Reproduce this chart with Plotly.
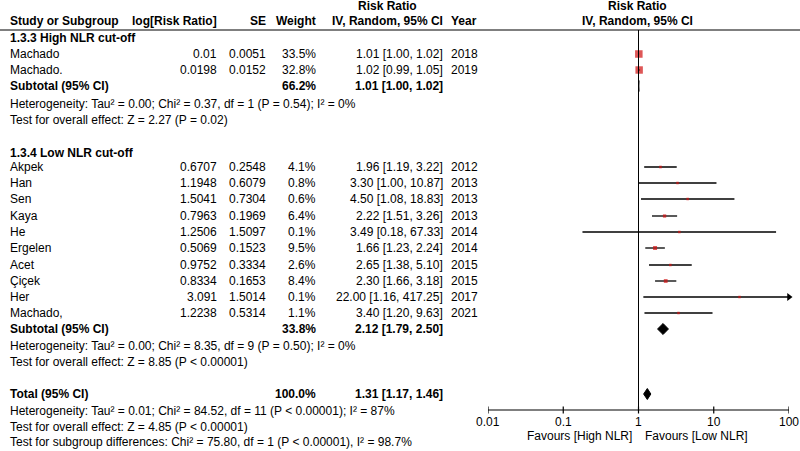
import math

import plotly.graph_objects as go

# ---- data ----
high_studies = ["Machado", "Machado."]
high_log_rr = [0.01, 0.0198]
high_se = [0.0051, 0.0152]
high_weight = [33.5, 32.8]
high_rr = [1.01, 1.02]
high_lo = [1.00, 0.99]
high_hi = [1.02, 1.05]
high_year = [2018, 2019]

low_studies = ["Akpek", "Han", "Sen", "Kaya", "He", "Ergelen", "Acet", "Çiçek", "Her", "Machado,"]
low_log_rr = [0.6707, 1.1948, 1.5041, 0.7963, 1.2506, 0.5069, 0.9752, 0.8334, 3.091, 1.2238]
low_se = [0.2548, 0.6079, 0.7304, 0.1969, 1.5097, 0.1523, 0.3334, 0.1653, 1.5014, 0.5314]
low_weight = [4.1, 0.8, 0.6, 6.4, 0.1, 9.5, 2.6, 8.4, 0.1, 1.1]
low_rr = [1.96, 3.30, 4.50, 2.22, 3.49, 1.66, 2.65, 2.30, 22.00, 3.40]
low_lo = [1.19, 1.00, 1.08, 1.51, 0.18, 1.23, 1.38, 1.66, 1.16, 1.20]
low_hi = [3.22, 10.87, 18.83, 3.26, 67.33, 2.24, 5.10, 3.18, 417.25, 9.63]
low_year = [2012, 2013, 2013, 2013, 2014, 2014, 2015, 2015, 2017, 2021]

# pooled: weight, estimate, lower, upper
subtotal_high = [66.2, 1.01, 1.00, 1.02]
subtotal_low = [33.8, 2.12, 1.79, 2.50]
total = [100.0, 1.31, 1.17, 1.46]

het_high = "Heterogeneity: Tau² = 0.00; Chi² = 0.37, df = 1 (P = 0.54); I² = 0%"
eff_high = "Test for overall effect: Z = 2.27 (P = 0.02)"
het_low = "Heterogeneity: Tau² = 0.00; Chi² = 8.35, df = 9 (P = 0.50); I² = 0%"
eff_low = "Test for overall effect: Z = 8.85 (P < 0.00001)"
het_total = "Heterogeneity: Tau² = 0.01; Chi² = 84.52, df = 11 (P < 0.00001); I² = 87%"
eff_total = "Test for overall effect: Z = 4.85 (P < 0.00001)"
subgroup_diff = "Test for subgroup differences: Chi² = 75.80, df = 1 (P < 0.00001), I² = 98.7%"

tick_vals = [0.01, 0.1, 1, 10, 100]
tick_text = ["0.01", "0.1", "1", "10", "100"]
favours_left = "Favours [High NLR]"
favours_right = "Favours [Low NLR]"

# ---- layout (pixel rows, y grows downward) ----
W, H = 800, 451
FONT = "Liberation Sans, Arial, sans-serif"
FS = 12
X_MIN, X_MAX = 0.01, 100
PLOT_L, PLOT_R = 488, 789
AXIS_Y = 410

high_rows = [54, 70]
high_sub_row = 86
low_rows = [167, 183, 199, 216, 232, 248, 265, 281, 297, 313]
low_sub_row = 329
total_row = 394

COL_NAME = 8
COL_LOGRR = 219
COL_SE = 268
COL_W = 318
COL_CI = 445
COL_YEAR = 449

fig = go.Figure()
annotations = []


def txt(x, y, s, anchor="left", bold=False):
    annotations.append(dict(
        x=x / W, y=y, xref="paper", yref="y", text=f"<b>{s}</b>" if bold else s,
        showarrow=False, xanchor=anchor, yanchor="middle",
        font=dict(family=FONT, size=FS, color="black"),
    ))


# headers
txt(387, 6, "Risk Ratio", "center", True)
txt(COL_NAME, 21, "Study or Subgroup", bold=True)
txt(COL_LOGRR, 21, "log[Risk Ratio]", "right", True)
txt(COL_SE, 21, "SE", "right", True)
txt(COL_W, 21, "Weight", "right", True)
txt(COL_CI, 21, "IV, Random, 95% CI", "right", True)
txt(COL_YEAR, 21, "Year", bold=True)
txt(637, 6, "Risk Ratio", "center", True)
txt(637, 21, "IV, Random, 95% CI", "center", True)


def study_rows(names, lrr, se, wt, rr, lo, hi, yr, rows):
    for i, y in enumerate(rows):
        txt(COL_NAME, y, names[i])
        txt(COL_LOGRR, y, str(lrr[i]), "right")
        txt(COL_SE, y, str(se[i]), "right")
        txt(COL_W, y, f"{wt[i]:.1f}%", "right")
        txt(COL_CI, y, f"{rr[i]:.2f} [{lo[i]:.2f}, {hi[i]:.2f}]", "right")
        txt(COL_YEAR, y, str(yr[i]))


def pooled_row(label, vals, y):
    txt(COL_NAME, y, label, bold=True)
    txt(COL_W, y, f"{vals[0]:.1f}%", "right", True)
    txt(COL_CI, y, f"{vals[1]:.2f} [{vals[2]:.2f}, {vals[3]:.2f}]", "right", True)


txt(COL_NAME, 38, "1.3.3 High NLR cut-off", bold=True)
study_rows(high_studies, high_log_rr, high_se, high_weight, high_rr, high_lo, high_hi, high_year, high_rows)
pooled_row("Subtotal (95% CI)", subtotal_high, high_sub_row)
txt(COL_NAME, 104, het_high)
txt(COL_NAME, 120, eff_high)

txt(COL_NAME, 153, "1.3.4 Low NLR cut-off", bold=True)
study_rows(low_studies, low_log_rr, low_se, low_weight, low_rr, low_lo, low_hi, low_year, low_rows)
pooled_row("Subtotal (95% CI)", subtotal_low, low_sub_row)
txt(COL_NAME, 346, het_low)
txt(COL_NAME, 362, eff_low)

pooled_row("Total (95% CI)", total, total_row)
txt(COL_NAME, 411, het_total)
txt(COL_NAME, 427, eff_total)
txt(COL_NAME, 442, subgroup_diff)

# ---- forest: CI lines ----
all_rr = high_rr + low_rr
all_lo = high_lo + low_lo
all_hi = high_hi + low_hi
all_w = high_weight + low_weight
all_rows = high_rows + low_rows

lx, ly = [], []
arrows_x, arrows_y = [], []
for rr_, lo_, hi_, y in zip(all_rr, all_lo, all_hi, all_rows):
    lo_c = max(lo_, X_MIN)
    hi_c = min(hi_, X_MAX)
    lx += [lo_c, hi_c, None]
    ly += [y, y, None]
    if hi_ > X_MAX:
        arrows_x.append(X_MAX)
        arrows_y.append(y)

fig.add_trace(go.Scatter(x=lx, y=ly, mode="lines", line=dict(color="black", width=1.3),
                         hoverinfo="skip"))
fig.add_trace(go.Scatter(x=arrows_x, y=arrows_y, mode="markers", cliponaxis=False,
                         marker=dict(symbol="triangle-right", size=7, color="black"),
                         hoverinfo="skip"))

# weight squares
fig.add_trace(go.Scatter(
    x=all_rr, y=all_rows, mode="markers",
    marker=dict(symbol="square", color="#d01010",
                size=[max(2.5, 1.3 * w ** 0.5) for w in all_w], line=dict(width=0)),
    hoverinfo="skip",
))

# diamonds
for vals, y in [(subtotal_high, high_sub_row), (subtotal_low, low_sub_row), (total, total_row)]:
    _, est, lo_, hi_ = vals
    fig.add_trace(go.Scatter(
        x=[lo_, est, hi_, est, lo_], y=[y, y - 5.5, y, y + 5.5, y],
        mode="lines", fill="toself", fillcolor="black",
        line=dict(color="black", width=1), hoverinfo="skip",
    ))

# null line and axis
fig.add_trace(go.Scatter(x=[1, 1], y=[30, AXIS_Y], mode="lines",
                         line=dict(color="black", width=1), hoverinfo="skip"))
fig.add_trace(go.Scatter(x=[X_MIN, X_MAX], y=[AXIS_Y, AXIS_Y], mode="lines",
                         line=dict(color="black", width=1.2), hoverinfo="skip"))
tx, ty = [], []
for t in tick_vals:
    tx += [t, t, None]
    ty += [AXIS_Y - 3.5, AXIS_Y + 3.5, None]
fig.add_trace(go.Scatter(x=tx, y=ty, mode="lines", cliponaxis=False,
                         line=dict(color="black", width=1.2), hoverinfo="skip"))
for t, s in zip(tick_vals, tick_text):
    # annotations on a log axis take log10 positions
    annotations.append(dict(x=math.log10(t), y=422, xref="x", yref="y", text=s,
                            showarrow=False, xanchor="center", yanchor="middle",
                            font=dict(family=FONT, size=FS, color="black")))
txt(634, 436, favours_left, "right")
txt(643, 436, favours_right, "left")

fig.update_layout(
    width=W, height=H,
    margin=dict(l=0, r=0, t=0, b=0),
    paper_bgcolor="white", plot_bgcolor="white",
    showlegend=False,
    xaxis=dict(type="log", range=[-2, 2], domain=[PLOT_L / W, PLOT_R / W], visible=False),
    yaxis=dict(range=[H, 0], domain=[0, 1], visible=False),
    annotations=annotations,
    shapes=[dict(type="line", xref="paper", yref="y", x0=0, x1=1, y0=30, y1=30,
                 line=dict(color="black", width=1.2))],
)

fig.write_html("out.html", config={"displayModeBar": False},
               post_script="document.body.style.margin = '0';")
